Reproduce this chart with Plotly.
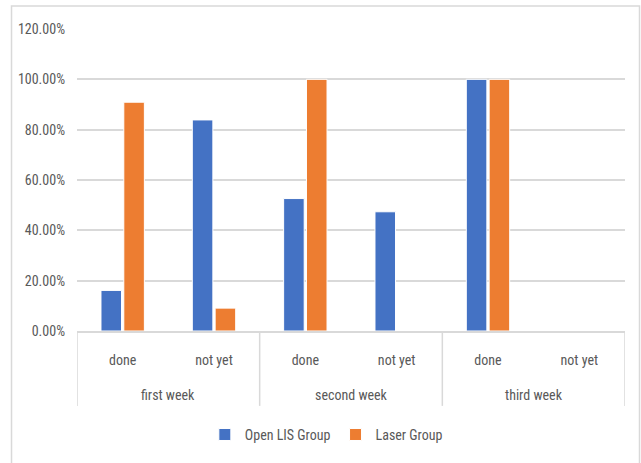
import plotly.graph_objects as go

weeks = ["first week", "second week", "third week"]
status = ["done", "not yet", "done", "not yet", "done", "not yet"]
open_lis = [0.1613, 0.8387, 0.5263, 0.4737, 1.0, 0.0]
laser = [0.9091, 0.0909, 1.0, 0.0, 1.0, 0.0]
y_ticks = [0, 0.2, 0.4, 0.6, 0.8, 1.0, 1.2]

FONT = "Liberation Sans Narrow, Roboto Condensed, Liberation Sans, sans-serif"
GREY = "#595959"
LINE = "#d9d9d9"
FS = 14

pos = list(range(len(status)))

fig = go.Figure()
fig.add_trace(go.Bar(x=pos, y=open_lis, name="Open LIS Group",
                     marker=dict(color="#4472C4", line=dict(color="white", width=1))))
fig.add_trace(go.Bar(x=pos, y=laser, name="Laser Group",
                     marker=dict(color="#ED7D31", line=dict(color="white", width=1))))

# week group labels and separators under the category axis
n_per = len(status) // len(weeks)
annotations = []
shapes = [dict(type="rect", xref="paper", yref="paper",
               x0=-0.1195, x1=1.0265, y0=-0.44, y1=1.076,
               line=dict(color=LINE, width=1.5), layer="below")]
for i, w in enumerate(weeks):
    centre = i * n_per + (n_per - 1) / 2
    annotations.append(dict(x=centre, y=-0.212, xref="x", yref="paper", text=w,
                            showarrow=False, yanchor="middle",
                            font=dict(family=FONT, size=FS, color=GREY)))
for k in range(len(weeks) + 1):
    shapes.append(dict(type="line", xref="x", yref="paper",
                       x0=k * n_per - 0.5, x1=k * n_per - 0.5, y0=0, y1=-0.248,
                       line=dict(color=LINE, width=1.5)))

fig.update_layout(
    width=641, height=463,
    margin=dict(l=77, r=16, t=29, b=132),
    paper_bgcolor="white", plot_bgcolor="white",
    barmode="group", bargap=0.5, bargroupgap=0.1,
    font=dict(family=FONT, size=FS, color=GREY),
    showlegend=True,
    legend=dict(orientation="h", x=0.455, xanchor="center", y=-0.344, yanchor="middle",
                font=dict(family=FONT, size=FS, color=GREY)),
    shapes=shapes,
    annotations=annotations,
)
fig.update_yaxes(range=[0, 1.2], tickvals=y_ticks, tickformat=".2%",
                 showgrid=True, gridcolor=LINE, gridwidth=1.5,
                 zeroline=False, showline=False, ticks="", ticklabelstandoff=11,
                 tickfont=dict(family=FONT, size=FS, color=GREY))
fig.update_xaxes(range=[-0.5, len(status) - 0.5], tickvals=pos, ticktext=status,
                 showline=True, linecolor=LINE, linewidth=1.5, showgrid=False,
                 zeroline=False, ticks="", ticklabelstandoff=15,
                 tickfont=dict(family=FONT, size=FS, color=GREY))

fig.write_html("out.html")
